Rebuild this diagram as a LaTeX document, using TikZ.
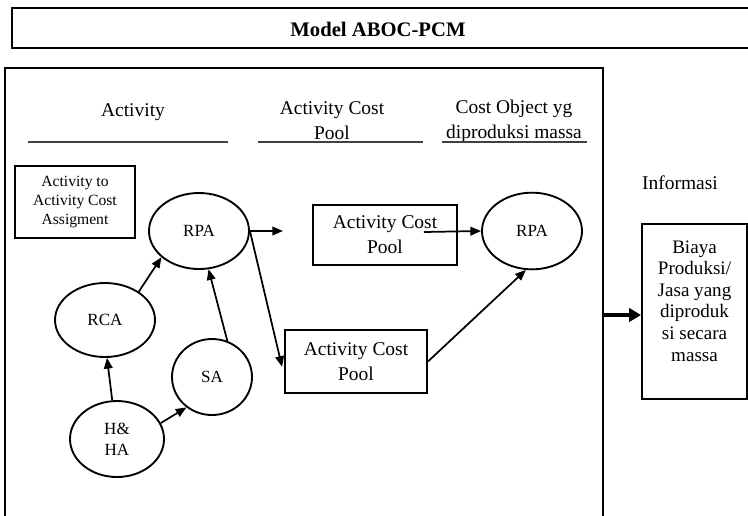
\documentclass[tikz,border=0pt]{standalone}
\usepackage{fontspec}
\setmainfont{Liberation Serif}
\usetikzlibrary{shapes.geometric,arrows.meta,calc}
\begin{document}
\begin{tikzpicture}[x=0.75pt,y=-0.75pt,
  line width=1.4pt,
  ell/.style={draw,ellipse,inner sep=0pt,font=\fontsize{12.8}{15.5}\selectfont,align=center},
  boxn/.style={draw,rectangle,inner sep=0pt,align=center},
  hdr/.style={font=\fontsize{14.6}{18.8}\selectfont,align=center},
  uline/.style={line width=1pt,black!75},
  arr/.style={-{Triangle[length=8pt,width=6.5pt]},line width=1.3pt},
  thickarr/.style={-{Triangle[length=9pt,width=10pt]},line width=3.2pt},
  ]
\useasboundingbox (0,0) rectangle (748,515);
\clip (0,0) rectangle (748,515);

% title
\node (titlebox) [boxn, minimum width=561pt, minimum height=30pt] at (386,28) {};
\node (title) [font=\fontsize{15.5}{18}\selectfont\bfseries] at (378,29) {Model ABOC-PCM};

% main frame
\node (main) [boxn, minimum width=448.5pt, minimum height=354pt] at (304,304) {};

% headers
\node (h1) [hdr] at (133,112) {Activity};
\node (h2) [hdr] at (332,121) {Activity Cost\\Pool};
\node (h3) [hdr] at (514,121) {Cost Object yg\\diproduksi massa};
\draw[uline] (28,142) -- (228,142);
\draw[uline] (258,142) -- (423,142);
\draw[uline] (442,142) -- (587,142);

% assignment box
\node (assign) [boxn, minimum width=90pt, minimum height=54pt,
  font=\fontsize{11.7}{14.6}\selectfont] at (75,202) {Activity to\\Activity Cost\\Assigment};

% ellipses
\node (rpa1) [ell, minimum width=75pt, minimum height=57pt] at (199,231) {RPA};
\node (rca)  [ell, minimum width=75pt, minimum height=55.5pt] at (105,320) {RCA};
\node (sa)   [ell, minimum width=60pt, minimum height=57pt] at (212,377) {SA};
\node (hha)  [ell, minimum width=70.5pt, minimum height=57pt] at (117,439) {H\&\\HA};
\node (rpa2) [ell, minimum width=75pt, minimum height=57.5pt] at (532,231) {RPA};

% cost pool boxes
\node (acp1) [boxn, hdr, minimum width=108pt, minimum height=45pt] at (385,235) {Activity Cost\\Pool};
\node (acp2) [boxn, hdr, minimum width=106.5pt, minimum height=47pt] at (356,361.5) {Activity Cost\\Pool};

% information
\node (info) [hdr] at (680,183) {Informasi};
\node (biaya) [boxn, minimum width=78.75pt, minimum height=131.25pt,
  font=\fontsize{14.3}{16.2}\selectfont] at (694.5,311.5) {Biaya\\Produksi/\\Jasa yang\\diproduk\\si secara\\massa\\~};

% connectors
\coordinate (c1) at (283,231);
\draw[arr] (rpa1.east) -- (c1);
\draw[arr] (rpa1.east) -- ([xshift=-1.5pt,yshift=-4pt]acp2.west);
\draw[arr] ($(acp1.east)+(-34,-3)$) -- (rpa2.west);
\draw[arr] (acp2.east) -- (rpa2.261);
\draw[arr] (rca.40) -- (rpa1.215);
\draw[arr] (sa.67) -- (rpa1.284);
\draw[arr] (hha.97) -- (rca.273);
\draw[arr] (hha.20) -- (sa.230);

\coordinate (mainR) at (603,315);
\draw[thickarr] (mainR) -- (biaya.west |- mainR);
\end{tikzpicture}
\end{document}
